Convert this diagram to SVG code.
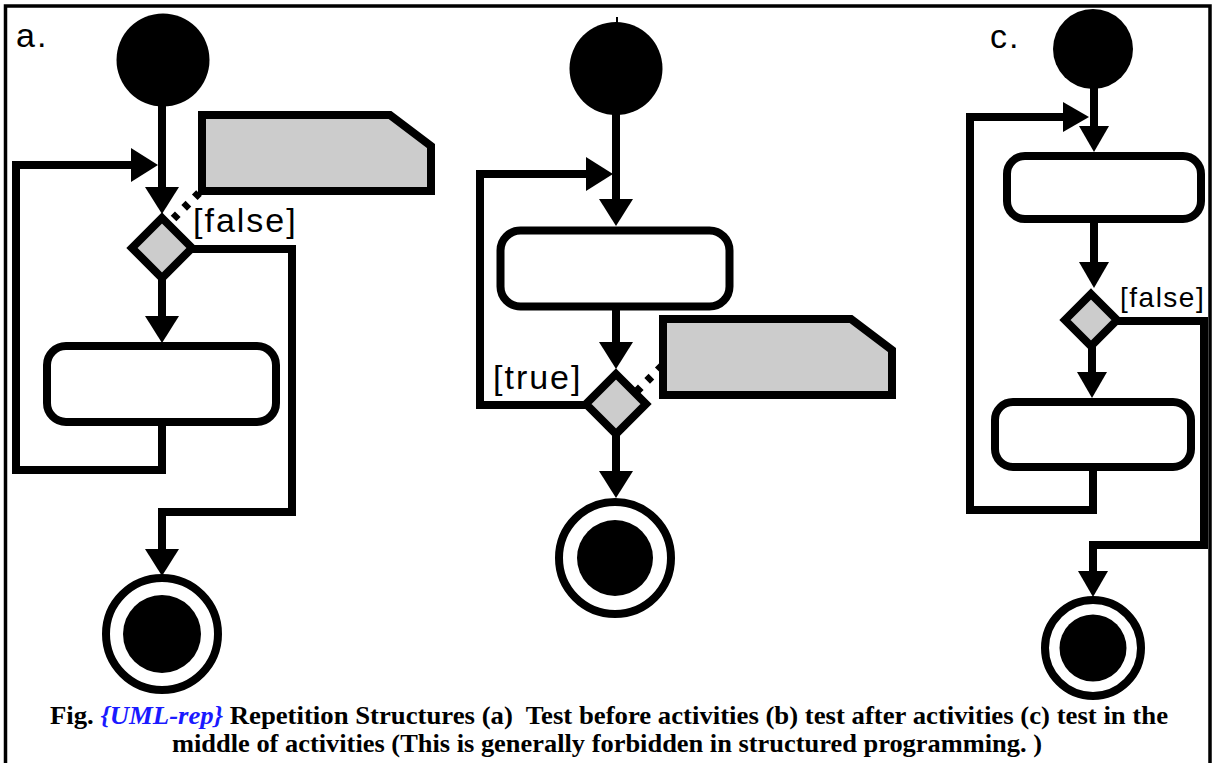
<svg xmlns="http://www.w3.org/2000/svg" width="1214" height="763" viewBox="0 0 1214 763">
  <style>
    .line { fill: none; stroke: #000; stroke-width: 8; stroke-linejoin: miter; }
    .arrow { marker-end: url(#head); }
    .arrow-s { marker-end: url(#head-s); }
    .start { fill: #000; }
    .action { fill: #fff; stroke: #000; stroke-width: 8; }
    .decision { fill: #ccc; stroke: #000; stroke-width: 8; stroke-linejoin: miter; }
    .note { fill: #ccc; stroke: #000; stroke-width: 8; stroke-linejoin: miter; }
    .ring { fill: #fff; stroke: #000; stroke-width: 8; }
    .dot { fill: #000; }
    .anchor { fill: none; stroke: #000; stroke-width: 8; stroke-dasharray: 6 9; }
    .lbl { font-family: "Liberation Sans", Arial, sans-serif; font-size: 34px; letter-spacing: 2px; fill: #000; }
    .guard { font-family: "Liberation Sans", Arial, sans-serif; font-size: 34px; letter-spacing: 2px; fill: #000; }
    .guard-s { font-family: "Liberation Sans", Arial, sans-serif; font-size: 28px; letter-spacing: 1.5px; fill: #000; }
    .caption { font-family: "Liberation Serif", "Times New Roman", serif; font-size: 26px; font-weight: bold; fill: #000; }
    .ref { fill: #1a1aff; font-style: italic; }
  </style>
  <defs>
    <marker id="head" markerUnits="userSpaceOnUse" viewBox="0 0 27 34" refX="0" refY="17" markerWidth="27" markerHeight="34" orient="auto">
      <path d="M0,0 L27,17 L0,34 Z" fill="#000"/>
    </marker>
    <marker id="head-s" markerUnits="userSpaceOnUse" viewBox="0 0 26 30" refX="0" refY="15" markerWidth="26" markerHeight="30" orient="auto">
      <path d="M0,0 L26,15 L0,30 Z" fill="#000"/>
    </marker>
  </defs>

  <!-- frame -->
  <path d="M5.5,770 V6 H1210 V770" fill="none" stroke="#000" stroke-width="3.5"/>

  <!-- connectors -->
  <g id="connectors">
    <!-- (a) test before -->
    <path class="line arrow" d="M162,104 V187"/>
    <path class="line arrow" d="M162,278 V316"/>
    <path class="line arrow" d="M162,422 V470 H16 V165 H131"/>
    <path class="line arrow" d="M192,249 H292 V512 H162 V549"/>
    <line class="anchor" x1="199" y1="193" x2="168" y2="224"/>
    <!-- (b) test after -->
    <path class="line arrow" d="M616,112 V199"/>
    <path class="line arrow" d="M616,307 V342"/>
    <path class="line arrow" d="M616,434 V471"/>
    <path class="line arrow" d="M586,405 H480 V174 H586"/>
    <line class="anchor" x1="662" y1="366" x2="636" y2="392"/>
    <!-- (c) test in the middle -->
    <path class="line arrow-s" d="M1094,87 V126"/>
    <path class="line arrow-s" d="M1094,219 V262"/>
    <path class="line arrow-s" d="M1092,346 V372"/>
    <path class="line arrow-s" d="M1093,467 V510 H970 V117 H1063"/>
    <path class="line arrow-s" d="M1117,321 H1204 V545 H1093 V571"/>
  </g>

  <!-- (a) -->
  <g id="label-a"><text class="lbl" x="16" y="47">a.</text></g>
  <g id="start-a"><circle class="start" cx="163" cy="60" r="46.5"/></g>
  <g id="note-a"><polygon class="note" points="202,115 390,115 431,146 431,191 202,191"/></g>
  <g id="decision-a">
    <polygon class="decision" points="162,218 192,248 162,278 132,248"/>
    <text class="guard" x="193" y="232">[false]</text>
  </g>
  <g id="action-a"><rect class="action" x="47" y="346" width="229" height="76" rx="19"/></g>
  <g id="end-a">
    <circle class="ring" cx="162" cy="634" r="56"/>
    <circle class="dot" cx="162" cy="634" r="39"/>
  </g>

  <!-- (b) -->
  <g id="start-b">
    <circle class="start" cx="616" cy="68.5" r="46.5"/>
    <line x1="617" y1="17" x2="617" y2="24" stroke="#000" stroke-width="2"/>
  </g>
  <g id="action-b"><rect class="action" x="500.5" y="230.5" width="229" height="76" rx="20"/></g>
  <g id="note-b"><polygon class="note" points="663,319 851,319 892,350 892,395 663,395"/></g>
  <g id="decision-b">
    <polygon class="decision" points="616,374 646,404 616,434 586,404"/>
    <text class="guard" x="493" y="389">[true]</text>
  </g>
  <g id="end-b">
    <circle class="ring" cx="615" cy="558" r="56"/>
    <circle class="dot" cx="615" cy="558" r="38"/>
  </g>

  <!-- (c) -->
  <g id="label-c"><text class="lbl" x="990" y="48">c.</text></g>
  <g id="start-c"><circle class="start" cx="1093" cy="49" r="40"/></g>
  <g id="action-c1"><rect class="action" x="1007" y="156" width="194" height="63" rx="18"/></g>
  <g id="decision-c">
    <polygon class="decision" points="1091,294 1117,320 1091,346 1065,320"/>
    <text class="guard-s" x="1120" y="307">[false]</text>
  </g>
  <g id="action-c2"><rect class="action" x="995" y="402" width="196" height="65" rx="18"/></g>
  <g id="end-c">
    <circle class="ring" cx="1093" cy="648" r="48"/>
    <circle class="dot" cx="1093" cy="648" r="33.5"/>
  </g>

  <!-- caption -->
  <g id="caption">
    <text class="caption" x="50" y="724" textLength="1118" lengthAdjust="spacingAndGlyphs" xml:space="preserve">Fig. <tspan class="ref">{UML-rep}</tspan> Repetition Structures (a)  Test before activities (b) test after activities (c) test in the</text>
    <text class="caption" x="172" y="752" textLength="870" lengthAdjust="spacingAndGlyphs">middle of activities (This is generally forbidden in structured programming. )</text>
  </g>
</svg>
